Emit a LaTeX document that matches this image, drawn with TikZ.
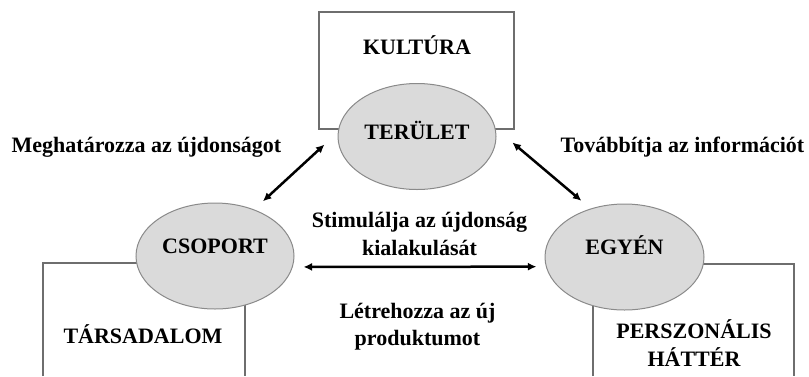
\documentclass[tikz,border=0pt]{standalone}
\usepackage{fontspec}
\setmainfont{Liberation Serif}
\usetikzlibrary{arrows.meta,shapes.geometric}
\definecolor{framegray}{HTML}{6E6E6E}
\definecolor{edgegray}{HTML}{8A8A8A}
\definecolor{bubblegray}{HTML}{DADADA}
\begin{document}
\begin{tikzpicture}[x=1pt,y=-1pt,
  frame/.style={draw=framegray, line width=1.3pt},
  bubble/.style={ellipse, draw=edgegray, fill=bubblegray, line width=1pt,
    minimum width=158pt, minimum height=106pt, inner sep=0pt},
  lbl/.style={font=\fontsize{22}{27.5}\selectfont\bfseries, align=center, inner sep=0pt},
  link/.style={line width=2.5pt,
    {Latex[length=8.5pt,width=8pt]}-{Latex[length=8.5pt,width=8pt]}}
]
\useasboundingbox (0,0) rectangle (809,376);

% context frames behind the three actors
\draw[frame] (319,12) rectangle (514,129);
\draw[frame] (43,376) -- (43,263) -- (245,263) -- (245,376);
\draw[frame] (593,376) -- (593,264) -- (794,264) -- (794,376);

\node[lbl] (kultura) at (417,45) {KULTÚRA};
\node[lbl] (tarsadalom) at (143,334) {TÁRSADALOM};
\node[lbl] (hatter) at (694,343) {PERSZONÁLIS\\HÁTTÉR};

% the three actors
\node[bubble] (ter) at (417,136.5) {};
\node[bubble] (csop) at (215,256) {};
\node[bubble, minimum width=159pt] (egy) at (624.5,257) {};

\node[lbl] (terT) at (417,130) {TERÜLET};
\node[lbl] (csopT) at (215,246) {CSOPORT};
\node[lbl] (egyT) at (624.5,245) {EGYÉN};

% relations
\draw[link, shorten <=12pt, shorten >=18pt] (csop.50) -- (ter.177);
\draw[link, shorten <=22pt, shorten >=12pt] (ter.6.5) -- (egy.125);
\draw[link, shorten <=10.7pt, shorten >=9.4pt] (csop.-8) -- (egy.187.3);

\node[lbl] (meghat) at (146.5,147) {Meghatározza az újdonságot};
\node[lbl] (tovabb) at (682.5,147) {Továbbítja az információt};
\node[lbl] (stim) at (419.5,234) {Stimulálja az újdonság\\kialakulását};
\node[lbl] (letre) at (417.5,326.5) {Létrehozza az új\\produktumot};
\end{tikzpicture}
\end{document}
